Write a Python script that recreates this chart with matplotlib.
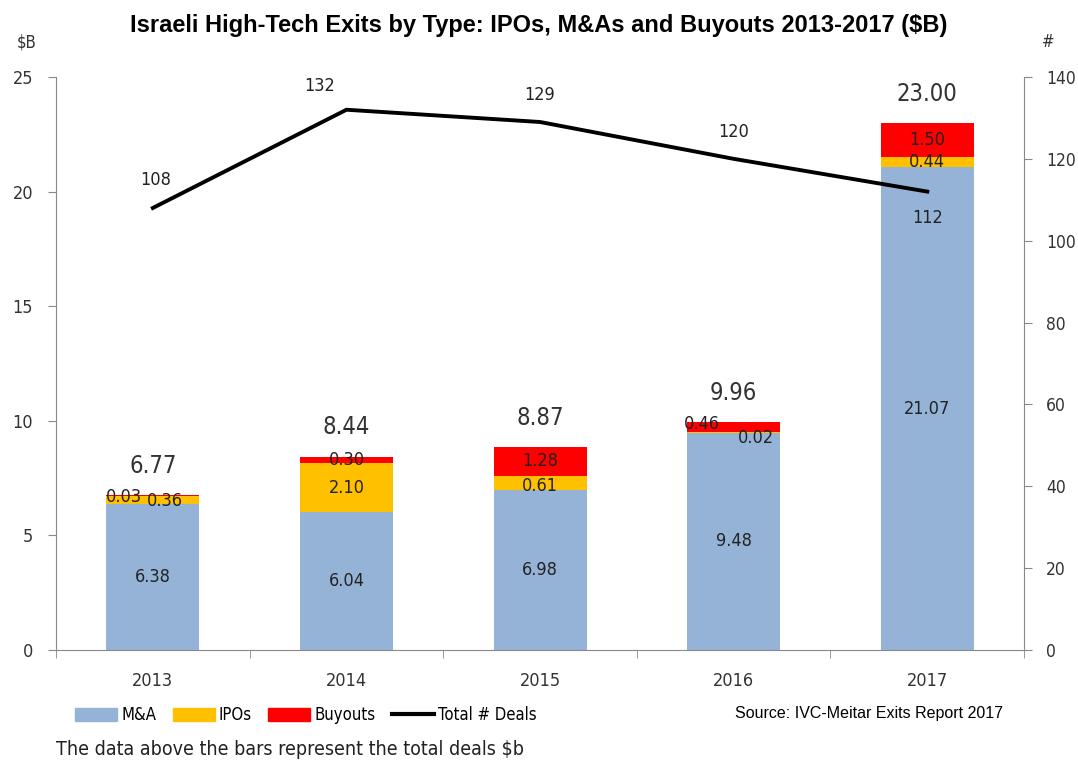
import matplotlib
matplotlib.use('Agg')
import matplotlib.pyplot as plt
from matplotlib.patches import Patch
from matplotlib.lines import Line2D

years = ['2013', '2014', '2015', '2016', '2017']
mna = [6.38, 6.04, 6.98, 9.48, 21.07]
ipos = [0.36, 2.10, 0.61, 0.02, 0.44]
buyouts = [0.03, 0.30, 1.28, 0.46, 1.50]
totals = [6.77, 8.44, 8.87, 9.96, 23.00]
deals = [108, 132, 129, 120, 112]

c_mna = '#95B3D7'
c_ipo = '#FFC000'
c_buy = '#FF0000'
plt.rcParams['font.family'] = ['DejaVu Sans']
plt.rcParams['font.stretch'] = 'condensed'

fig = plt.figure(figsize=(10.78, 7.66), dpi=100)
ax = fig.add_axes([0.052, 0.1514, 0.898, 0.7481])
x = list(range(len(years)))
w = 0.48
bot2 = [a + b for a, b in zip(mna, ipos)]
ax.bar(x, mna, w, color=c_mna, zorder=2)
ax.bar(x, ipos, w, bottom=mna, color=c_ipo, zorder=2)
ax.bar(x, buyouts, w, bottom=bot2, color=c_buy, zorder=2)
ax.set_xlim(-0.5, 4.5)
ax.set_ylim(0, 25)
ax.set_yticks(range(0, 26, 5))
ax.set_xticks(x)
ax.set_xticklabels(years)
ax.tick_params(axis='y', labelsize=13, colors='#333333', length=6, color='#888888', pad=10.5)
ax.tick_params(axis='x', labelsize=13, colors='#333333', length=0, pad=16)
ax.set_xticks([i + 0.5 for i in range(-1, 5)], minor=True)
ax.tick_params(axis='x', which='minor', length=6, color='#888888')
for s in ['top', 'right']:
    ax.spines[s].set_visible(False)
for s in ['left', 'bottom']:
    ax.spines[s].set_color('#888888')

# segment labels, shifted a bit where they would overlap (as in the original)
ipo_off = [(9, -1), (0, 0), (0, -2), (16, -4), (0, 0)]
buy_off = [(-21, -1), (0, 0), (0, 0), (-23, 2), (0, 0)]
for i in x:
    ax.text(i, mna[i] / 2, '%.2f' % mna[i], ha='center', va='center', fontsize=13, color='#222222', zorder=4)
    ax.annotate('%.2f' % ipos[i], (i, mna[i] + ipos[i] / 2), xytext=ipo_off[i], textcoords='offset points',
                ha='center', va='center', fontsize=13, color='#222222', zorder=4)
    ax.annotate('%.2f' % buyouts[i], (i, bot2[i] + buyouts[i] / 2), xytext=buy_off[i], textcoords='offset points',
                ha='center', va='center', fontsize=13, color='#222222', zorder=4)
    ax.annotate('%.2f' % totals[i], (i, totals[i]), xytext=(0, 21), textcoords='offset points',
                ha='center', va='center', fontsize=17, color='#333333')

ax2 = ax.twinx()
ax2.set_ylim(0, 140)
ax2.set_yticks(range(0, 141, 20))
ax2.plot(x, deals, color='black', lw=2.8, zorder=5)
ax2.tick_params(axis='y', labelsize=12.5, colors='#333333', length=6, color='#888888', pad=10)
for s in ['top', 'left', 'bottom']:
    ax2.spines[s].set_visible(False)
ax2.spines['right'].set_color('#888888')
deal_off = [(2, 20), (-19, 17), (0, 19.5), (0, 19.5), (0, -19)]
for i in x:
    ax2.annotate(str(deals[i]), (i, deals[i]), xytext=deal_off[i], textcoords='offset points',
                 ha='center', va='center', fontsize=13, color='#222222')

fig.text(0.5, 0.967, 'Israeli High-Tech Exits by Type: IPOs, M&As and Buyouts 2013-2017 ($B)',
         ha='center', va='center', fontsize=17, fontweight='bold',
         family=['Liberation Sans', 'DejaVu Sans'], fontstretch='normal')
fig.text(0.025, 0.945, '$B', ha='center', va='center', fontsize=12, color='#333333')
fig.text(0.972, 0.945, '#', ha='center', va='center', fontsize=12, color='#333333')

handles = [Patch(color=c_mna), Patch(color=c_ipo), Patch(color=c_buy),
           Line2D([], [], color='black', lw=3)]
fig.legend(handles, ['M&A', 'IPOs', 'Buyouts', 'Total # Deals'], loc='center left',
           bbox_to_anchor=(0.056, 0.066), ncol=4, frameon=False, fontsize=12,
           handlelength=2.5, handleheight=0.8, handletextpad=0.25, columnspacing=1.0)
fig.text(0.93, 0.069, 'Source: IVC-Meitar Exits Report 2017', ha='right', va='center',
         fontsize=11.5, family=['Liberation Sans', 'DejaVu Sans'], fontstretch='normal')
fig.text(0.052, 0.021, 'The data above the bars represent the total deals $b', ha='left', va='center',
         fontsize=14, color='#222222')

fig.savefig('out.png', dpi=100)
